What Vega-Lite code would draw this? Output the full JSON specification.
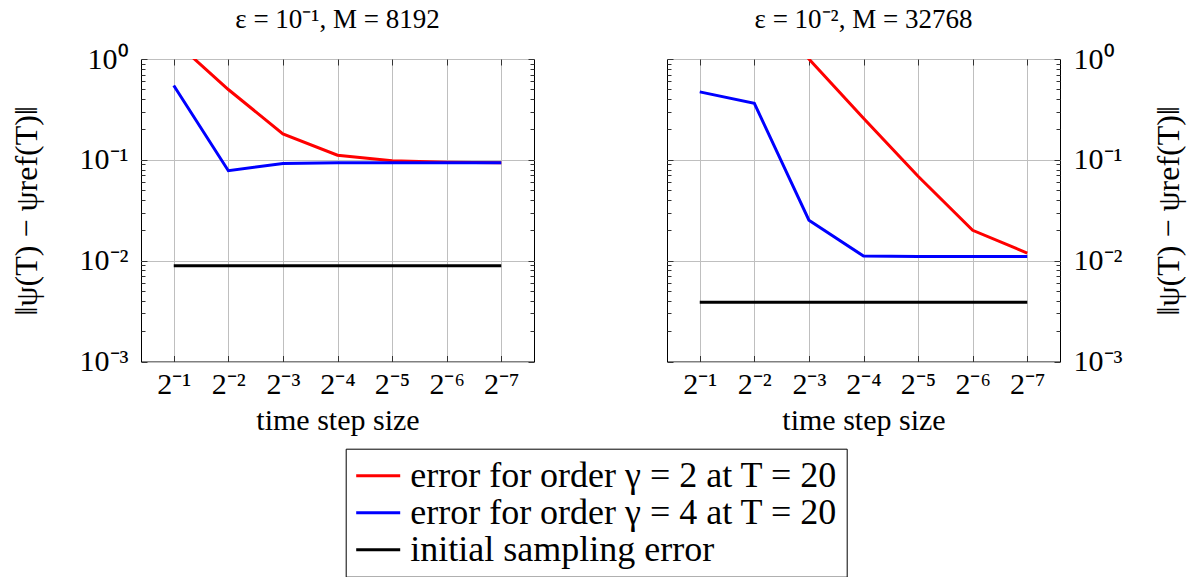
{
  "$schema": "https://vega.github.io/schema/vega-lite/v6.json",
  "background": "white",
  "padding": {"left": 9, "top": 5, "right": 5, "bottom": 0},
  "data": {"values": [
    {"panel": "a", "series": "error for order γ = 2 at T = 20", "x": 1, "y": 1.53},
    {"panel": "a", "series": "error for order γ = 2 at T = 20", "x": 2, "y": 0.498},
    {"panel": "a", "series": "error for order γ = 2 at T = 20", "x": 3, "y": 0.181},
    {"panel": "a", "series": "error for order γ = 2 at T = 20", "x": 4, "y": 0.111},
    {"panel": "a", "series": "error for order γ = 2 at T = 20", "x": 5, "y": 0.0977},
    {"panel": "a", "series": "error for order γ = 2 at T = 20", "x": 6, "y": 0.0946},
    {"panel": "a", "series": "error for order γ = 2 at T = 20", "x": 7, "y": 0.0938},
    {"panel": "a", "series": "error for order γ = 4 at T = 20", "x": 1, "y": 0.546},
    {"panel": "a", "series": "error for order γ = 4 at T = 20", "x": 2, "y": 0.078},
    {"panel": "a", "series": "error for order γ = 4 at T = 20", "x": 3, "y": 0.092},
    {"panel": "a", "series": "error for order γ = 4 at T = 20", "x": 4, "y": 0.0933},
    {"panel": "a", "series": "error for order γ = 4 at T = 20", "x": 5, "y": 0.0933},
    {"panel": "a", "series": "error for order γ = 4 at T = 20", "x": 6, "y": 0.0933},
    {"panel": "a", "series": "error for order γ = 4 at T = 20", "x": 7, "y": 0.0933},
    {"panel": "a", "series": "initial sampling error", "x": 1, "y": 0.0089},
    {"panel": "a", "series": "initial sampling error", "x": 2, "y": 0.0089},
    {"panel": "a", "series": "initial sampling error", "x": 3, "y": 0.0089},
    {"panel": "a", "series": "initial sampling error", "x": 4, "y": 0.0089},
    {"panel": "a", "series": "initial sampling error", "x": 5, "y": 0.0089},
    {"panel": "a", "series": "initial sampling error", "x": 6, "y": 0.0089},
    {"panel": "a", "series": "initial sampling error", "x": 7, "y": 0.0089},
    {"panel": "b", "series": "error for order γ = 2 at T = 20", "x": 1, "y": 15},
    {"panel": "b", "series": "error for order γ = 2 at T = 20", "x": 2, "y": 3.9},
    {"panel": "b", "series": "error for order γ = 2 at T = 20", "x": 3, "y": 1.0},
    {"panel": "b", "series": "error for order γ = 2 at T = 20", "x": 4, "y": 0.259},
    {"panel": "b", "series": "error for order γ = 2 at T = 20", "x": 5, "y": 0.0687},
    {"panel": "b", "series": "error for order γ = 2 at T = 20", "x": 6, "y": 0.02},
    {"panel": "b", "series": "error for order γ = 2 at T = 20", "x": 7, "y": 0.0119},
    {"panel": "b", "series": "error for order γ = 4 at T = 20", "x": 1, "y": 0.472},
    {"panel": "b", "series": "error for order γ = 4 at T = 20", "x": 2, "y": 0.364},
    {"panel": "b", "series": "error for order γ = 4 at T = 20", "x": 3, "y": 0.0252},
    {"panel": "b", "series": "error for order γ = 4 at T = 20", "x": 4, "y": 0.0111},
    {"panel": "b", "series": "error for order γ = 4 at T = 20", "x": 5, "y": 0.011},
    {"panel": "b", "series": "error for order γ = 4 at T = 20", "x": 6, "y": 0.011},
    {"panel": "b", "series": "error for order γ = 4 at T = 20", "x": 7, "y": 0.011},
    {"panel": "b", "series": "initial sampling error", "x": 1, "y": 0.00386},
    {"panel": "b", "series": "initial sampling error", "x": 2, "y": 0.00386},
    {"panel": "b", "series": "initial sampling error", "x": 3, "y": 0.00386},
    {"panel": "b", "series": "initial sampling error", "x": 4, "y": 0.00386},
    {"panel": "b", "series": "initial sampling error", "x": 5, "y": 0.00386},
    {"panel": "b", "series": "initial sampling error", "x": 6, "y": 0.00386},
    {"panel": "b", "series": "initial sampling error", "x": 7, "y": 0.00386}
  ]},
  "spacing": 133,
  "bounds": "flush",
  "resolve": {"scale": {"color": "shared"}, "legend": {"color": "shared"}},
  "hconcat": [
    {
      "width": 393,
      "height": 302.5,
      "title": {"text": "ε = 10⁻¹, M = 8192", "font": "Liberation Serif", "fontSize": 27, "fontWeight": "normal", "color": "black", "offset": 10.5},
      "transform": [{"filter": "datum.panel == 'a'"}],
      "layer": [
        {
          "mark": {"type": "line", "clip": true, "strokeWidth": 3},
          "encoding": {
            "x": {"field": "x", "type": "quantitative", "scale": {"domain": [0.4, 7.6], "nice": false, "zero": false},
              "axis": {"orient": "bottom", "values": [1, 2, 3, 4, 5, 6, 7], "labelExpr": "'2' + ['⁻¹','⁻²','⁻³','⁻⁴','⁻⁵','⁻⁶','⁻⁷'][datum.value - 1]", "ticks": false, "grid": true, "labelPadding": 8, "title": "time step size", "titlePadding": 6}},
            "y": {"field": "y", "type": "quantitative", "scale": {"type": "log", "domain": [0.001, 1], "nice": false},
              "axis": {"orient": "left", "values": [0.001, 0.01, 0.1, 1], "labelExpr": "datum.value > 0.5 ? '10⁰' : datum.value > 0.05 ? '10⁻¹' : datum.value > 0.005 ? '10⁻²' : '10⁻³'", "ticks": false, "grid": true, "labelPadding": 13, "title": "‖ψ(T) − ψref(T)‖", "titleFontSize": 32, "titlePadding": 36}},
            "color": {"field": "series", "type": "nominal",
              "scale": {"domain": ["error for order γ = 2 at T = 20", "error for order γ = 4 at T = 20", "initial sampling error"], "range": ["#ff0000", "#0000ff", "#000000"]},
              "legend": {"orient": "none", "legendX": 204.7, "legendY": 389.7, "title": null, "direction": "vertical", "strokeColor": "black", "fillColor": "white", "padding": 9, "symbolType": "M-2,0L2,0", "symbolSize": 484, "symbolStrokeWidth": 3, "symbolOffset": 5.5, "labelOffset": 14, "labelFont": "Liberation Serif", "labelFontSize": 36, "labelColor": "black", "labelLimit": 700, "rowPadding": 1}}
          }
        },
        {
          "mark": {"type": "line", "opacity": 0, "clip": true},
          "encoding": {
            "x": {"field": "x", "type": "quantitative", "scale": {"domain": [0.4, 7.6], "nice": false, "zero": false},
              "axis": {"orient": "bottom", "values": [1, 2, 3, 4, 5, 6, 7], "labels": false, "ticks": true, "tickSize": -6, "grid": false, "title": null}},
            "y": {"field": "y", "type": "quantitative", "scale": {"type": "log", "domain": [0.001, 1], "nice": false},
              "axis": {"orient": "left", "values": [0.001, 0.01, 0.1, 1], "labels": false, "ticks": true, "tickSize": -6, "grid": false, "title": null}}
          }
        },
        {
          "mark": {"type": "line", "opacity": 0, "clip": true},
          "encoding": {
            "x": {"field": "x", "type": "quantitative", "scale": {"domain": [0.4, 7.6], "nice": false, "zero": false},
              "axis": {"orient": "top", "values": [1, 2, 3, 4, 5, 6, 7], "labels": false, "ticks": true, "tickSize": -6, "grid": false, "title": null}},
            "y": {"field": "y", "type": "quantitative", "scale": {"type": "log", "domain": [0.001, 1], "nice": false},
              "axis": {"orient": "right", "values": [0.001, 0.01, 0.1, 1], "labels": false, "ticks": true, "tickSize": -6, "grid": false, "title": null}}
          }
        },
        {
          "mark": {"type": "line", "opacity": 0, "clip": true},
          "encoding": {
            "x": {"field": "x", "type": "quantitative", "scale": {"domain": [0.4, 7.6], "nice": false, "zero": false}, "axis": null},
            "y": {"field": "y", "type": "quantitative", "scale": {"type": "log", "domain": [0.001, 1], "nice": false},
              "axis": {"orient": "left", "values": [0.002, 0.003, 0.004, 0.005, 0.006, 0.007, 0.008, 0.009, 0.02, 0.03, 0.04, 0.05, 0.06, 0.07, 0.08, 0.09, 0.2, 0.3, 0.4, 0.5, 0.6, 0.7, 0.8, 0.9], "labels": false, "ticks": true, "tickSize": -4, "grid": false, "title": null}}
          }
        },
        {
          "mark": {"type": "line", "opacity": 0, "clip": true},
          "encoding": {
            "x": {"field": "x", "type": "quantitative", "scale": {"domain": [0.4, 7.6], "nice": false, "zero": false}, "axis": null},
            "y": {"field": "y", "type": "quantitative", "scale": {"type": "log", "domain": [0.001, 1], "nice": false},
              "axis": {"orient": "right", "values": [0.002, 0.003, 0.004, 0.005, 0.006, 0.007, 0.008, 0.009, 0.02, 0.03, 0.04, 0.05, 0.06, 0.07, 0.08, 0.09, 0.2, 0.3, 0.4, 0.5, 0.6, 0.7, 0.8, 0.9], "labels": false, "ticks": true, "tickSize": -4, "grid": false, "title": null}}
          }
        }
      ],
      "resolve": {"axis": {"x": "independent", "y": "independent"}}
    },
    {
      "width": 393,
      "height": 302.5,
      "title": {"text": "ε = 10⁻², M = 32768", "font": "Liberation Serif", "fontSize": 27, "fontWeight": "normal", "color": "black", "offset": 10.5},
      "transform": [{"filter": "datum.panel == 'b'"}],
      "layer": [
        {
          "mark": {"type": "line", "clip": true, "strokeWidth": 3},
          "encoding": {
            "x": {"field": "x", "type": "quantitative", "scale": {"domain": [0.4, 7.6], "nice": false, "zero": false},
              "axis": {"orient": "bottom", "values": [1, 2, 3, 4, 5, 6, 7], "labelExpr": "'2' + ['⁻¹','⁻²','⁻³','⁻⁴','⁻⁵','⁻⁶','⁻⁷'][datum.value - 1]", "ticks": false, "grid": true, "labelPadding": 8, "title": "time step size", "titlePadding": 6}},
            "y": {"field": "y", "type": "quantitative", "scale": {"type": "log", "domain": [0.001, 1], "nice": false},
              "axis": {"orient": "right", "values": [0.001, 0.01, 0.1, 1], "labelExpr": "datum.value > 0.5 ? '10⁰' : datum.value > 0.05 ? '10⁻¹' : datum.value > 0.005 ? '10⁻²' : '10⁻³'", "ticks": false, "grid": true, "labelPadding": 13, "title": "‖ψ(T) − ψref(T)‖", "titleFontSize": 32, "titleAngle": 270, "titleBaseline": "top", "titlePadding": 32}},
            "color": {"field": "series", "type": "nominal",
              "scale": {"domain": ["error for order γ = 2 at T = 20", "error for order γ = 4 at T = 20", "initial sampling error"], "range": ["#ff0000", "#0000ff", "#000000"]},
              "legend": {"orient": "none", "legendX": 204.7, "legendY": 389.7, "title": null, "direction": "vertical", "strokeColor": "black", "fillColor": "white", "padding": 9, "symbolType": "M-2,0L2,0", "symbolSize": 484, "symbolStrokeWidth": 3, "symbolOffset": 5.5, "labelOffset": 14, "labelFont": "Liberation Serif", "labelFontSize": 36, "labelColor": "black", "labelLimit": 700, "rowPadding": 1}}
          }
        },
        {
          "mark": {"type": "line", "opacity": 0, "clip": true},
          "encoding": {
            "x": {"field": "x", "type": "quantitative", "scale": {"domain": [0.4, 7.6], "nice": false, "zero": false},
              "axis": {"orient": "bottom", "values": [1, 2, 3, 4, 5, 6, 7], "labels": false, "ticks": true, "tickSize": -6, "grid": false, "title": null}},
            "y": {"field": "y", "type": "quantitative", "scale": {"type": "log", "domain": [0.001, 1], "nice": false},
              "axis": {"orient": "left", "values": [0.001, 0.01, 0.1, 1], "labels": false, "ticks": true, "tickSize": -6, "grid": false, "title": null}}
          }
        },
        {
          "mark": {"type": "line", "opacity": 0, "clip": true},
          "encoding": {
            "x": {"field": "x", "type": "quantitative", "scale": {"domain": [0.4, 7.6], "nice": false, "zero": false},
              "axis": {"orient": "top", "values": [1, 2, 3, 4, 5, 6, 7], "labels": false, "ticks": true, "tickSize": -6, "grid": false, "title": null}},
            "y": {"field": "y", "type": "quantitative", "scale": {"type": "log", "domain": [0.001, 1], "nice": false},
              "axis": {"orient": "right", "values": [0.001, 0.01, 0.1, 1], "labels": false, "ticks": true, "tickSize": -6, "grid": false, "title": null}}
          }
        },
        {
          "mark": {"type": "line", "opacity": 0, "clip": true},
          "encoding": {
            "x": {"field": "x", "type": "quantitative", "scale": {"domain": [0.4, 7.6], "nice": false, "zero": false}, "axis": null},
            "y": {"field": "y", "type": "quantitative", "scale": {"type": "log", "domain": [0.001, 1], "nice": false},
              "axis": {"orient": "left", "values": [0.002, 0.003, 0.004, 0.005, 0.006, 0.007, 0.008, 0.009, 0.02, 0.03, 0.04, 0.05, 0.06, 0.07, 0.08, 0.09, 0.2, 0.3, 0.4, 0.5, 0.6, 0.7, 0.8, 0.9], "labels": false, "ticks": true, "tickSize": -4, "grid": false, "title": null}}
          }
        },
        {
          "mark": {"type": "line", "opacity": 0, "clip": true},
          "encoding": {
            "x": {"field": "x", "type": "quantitative", "scale": {"domain": [0.4, 7.6], "nice": false, "zero": false}, "axis": null},
            "y": {"field": "y", "type": "quantitative", "scale": {"type": "log", "domain": [0.001, 1], "nice": false},
              "axis": {"orient": "right", "values": [0.002, 0.003, 0.004, 0.005, 0.006, 0.007, 0.008, 0.009, 0.02, 0.03, 0.04, 0.05, 0.06, 0.07, 0.08, 0.09, 0.2, 0.3, 0.4, 0.5, 0.6, 0.7, 0.8, 0.9], "labels": false, "ticks": true, "tickSize": -4, "grid": false, "title": null}}
          }
        }
      ],
      "resolve": {"axis": {"x": "independent", "y": "independent"}}
    }
  ],
  "config": {
    "view": {"stroke": "black", "strokeWidth": 1},
    "axis": {"domain": false, "labelFont": "Liberation Serif", "labelFontSize": 30, "labelColor": "black", "titleFont": "Liberation Serif", "titleFontSize": 30, "titleFontWeight": "normal", "titleColor": "black", "gridColor": "#bfbfbf", "gridWidth": 1, "tickColor": "#333333", "tickWidth": 1}
  }
}
